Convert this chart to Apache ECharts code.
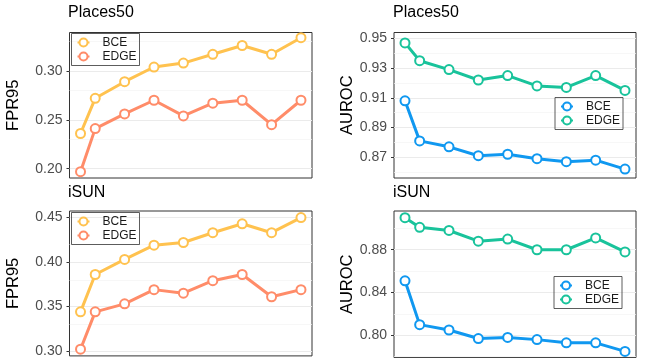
<!DOCTYPE html>
<html><head><meta charset="utf-8">
<script src="https://cdn.jsdelivr.net/npm/echarts@6/dist/echarts.min.js"></script>
<style>html,body{margin:0;padding:0;background:#fff}#c{width:649px;height:358px}</style>
</head><body><div id="c"></div>
<script>
// ---- data ----
const steps = [1, 2, 4, 6, 8, 10, 12, 14, 16];
const seriesNames = ['BCE', 'EDGE'];
const panelTitles = ['Places50', 'Places50', 'iSUN', 'iSUN'];
const yTitles = ['FPR95', 'AUROC', 'FPR95', 'AUROC'];

const places50FprBCE  = [0.236, 0.272, 0.289, 0.304, 0.308, 0.317, 0.326, 0.317, 0.334];
const places50FprEDGE = [0.197, 0.241, 0.256, 0.270, 0.254, 0.267, 0.270, 0.245, 0.270];
const places50AurocBCE  = [0.908, 0.881, 0.877, 0.871, 0.872, 0.869, 0.867, 0.868, 0.862];
const places50AurocEDGE = [0.947, 0.935, 0.929, 0.922, 0.925, 0.918, 0.917, 0.925, 0.915];
const isunFprBCE  = [0.344, 0.386, 0.403, 0.419, 0.422, 0.433, 0.443, 0.433, 0.450];
const isunFprEDGE = [0.302, 0.344, 0.353, 0.369, 0.365, 0.379, 0.386, 0.361, 0.369];
const isunAurocBCE  = [0.851, 0.810, 0.805, 0.797, 0.798, 0.796, 0.793, 0.793, 0.785];
const isunAurocEDGE = [0.910, 0.901, 0.898, 0.888, 0.890, 0.880, 0.880, 0.891, 0.878];

const yLimits = [[0.1905, 0.3393], [0.856, 0.954], [0.2945, 0.4574], [0.7792, 0.9162]];
const yMajorTicks = [[0.20, 0.25, 0.30], [0.87, 0.89, 0.91, 0.93, 0.95], [0.30, 0.35, 0.40, 0.45], [0.80, 0.84, 0.88]];
const yMinorTicks = [[0.225, 0.275, 0.325], [0.86, 0.88, 0.90, 0.92, 0.94], [0.325, 0.375, 0.425], [0.78, 0.82, 0.86, 0.90]];
const xLimits = [0.25, 16.75];

// ---- layout / style ----
const panelValues = [
  [places50FprBCE, places50FprEDGE],
  [places50AurocBCE, places50AurocEDGE],
  [isunFprBCE, isunFprEDGE],
  [isunAurocBCE, isunAurocEDGE]
];
const panelColors = [
  ['#FFC24F', '#FF8C69'],
  ['#1098F0', '#19C39B'],
  ['#FFC24F', '#FF8C69'],
  ['#1098F0', '#19C39B']
];
const grids = [
  { left: 69.5, top: 32.5, width: 242.5, height: 145.5 },
  { left: 394, top: 32.5, width: 242, height: 145.5 },
  { left: 69.5, top: 211, width: 242.5, height: 146.6 },
  { left: 394, top: 211, width: 242, height: 146.6 }
];
const legendPos = [
  { left: 71.5, top: 33.5 },
  { left: 555, top: 97.5 },
  { left: 71.5, top: 212.5 },
  { left: 554, top: 276.5 }
];
const titlePos = [
  { left: 68, top: 5 },
  { left: 393, top: 5 },
  { left: 68, top: 185 },
  { left: 393, top: 185 }
];
const nameGaps = [47.5, 38.5, 47.5, 38.5];
const FONT = 'Liberation Sans, Arial, Helvetica, sans-serif';

const option = {
  animation: false,
  textStyle: { fontFamily: FONT },
  title: panelTitles.map((t, i) => ({
    text: t, left: titlePos[i].left, top: titlePos[i].top, padding: 0,
    textStyle: { fontSize: 16, fontWeight: 'normal', color: '#000', fontFamily: FONT }
  })),
  grid: grids.map(g => Object.assign({ show: true, borderColor: '#333', borderWidth: 1, backgroundColor: '#fff', containLabel: false }, g)),
  xAxis: grids.map((g, i) => ({
    type: 'value', gridIndex: i, min: xLimits[0], max: xLimits[1],
    axisLine: { show: false }, axisTick: { show: false }, axisLabel: { show: false }, splitLine: { show: false }
  })),
  yAxis: grids.map((g, i) => ({
    type: 'value', gridIndex: i, min: yLimits[i][0], max: yLimits[i][1],
    axisLine: { show: false },
    axisTick: { show: true, customValues: yMajorTicks[i], length: 3, lineStyle: { color: '#333', width: 1 } },
    axisLabel: { customValues: yMajorTicks[i], formatter: v => v.toFixed(2), fontSize: 14, color: '#4D4D4D', margin: 7, fontFamily: FONT },
    splitLine: { show: true, lineStyle: { color: '#EBEBEB', width: 1 } },
    name: yTitles[i], nameLocation: 'middle', nameGap: nameGaps[i],
    nameTextStyle: { fontSize: 16.5, color: '#000', fontFamily: FONT }
  })),
  legend: grids.map((g, i) => ({
    orient: 'vertical', left: legendPos[i].left, top: legendPos[i].top,
    data: seriesNames.map(n => n + '|' + i),
    formatter: name => name.split('|')[0],
    selectedMode: false,
    itemWidth: 12, itemHeight: 10, itemGap: 2,
    padding: [3, 3, 3, 5],
    borderColor: '#333', borderWidth: 0.8, borderRadius: 0,
    textStyle: { fontSize: 12, color: '#1A1A1A', fontFamily: FONT, padding: [0, 0, 0, 8] }
  })),
  series: []
};

panelValues.forEach((vals, i) => {
  vals.forEach((arr, k) => {
    const c = panelColors[i][k];
    const s = {
      type: 'line', name: seriesNames[k] + '|' + i,
      xAxisIndex: i, yAxisIndex: i,
      data: steps.map((x, j) => [x, arr[j]]),
      symbol: 'circle', symbolSize: 9, showSymbol: true,
      color: c,
      lineStyle: { color: c, width: 3 },
      itemStyle: { color: '#fff', borderColor: c, borderWidth: 2 },
      emphasis: { disabled: true },
      z: 3
    };
    if (k === 0) {
      s.markLine = {
        silent: true, symbol: 'none', z: 1, animation: false,
        label: { show: false },
        lineStyle: { color: '#F3F3F3', width: 0.7, type: 'solid' },
        emphasis: { disabled: true },
        data: yMinorTicks[i].map(v => ({ yAxis: v }))
      };
    }
    option.series.push(s);
  });
});

const chart = echarts.init(document.getElementById('c'), null, { renderer: 'canvas' });
chart.setOption(option);
</script></body></html>
